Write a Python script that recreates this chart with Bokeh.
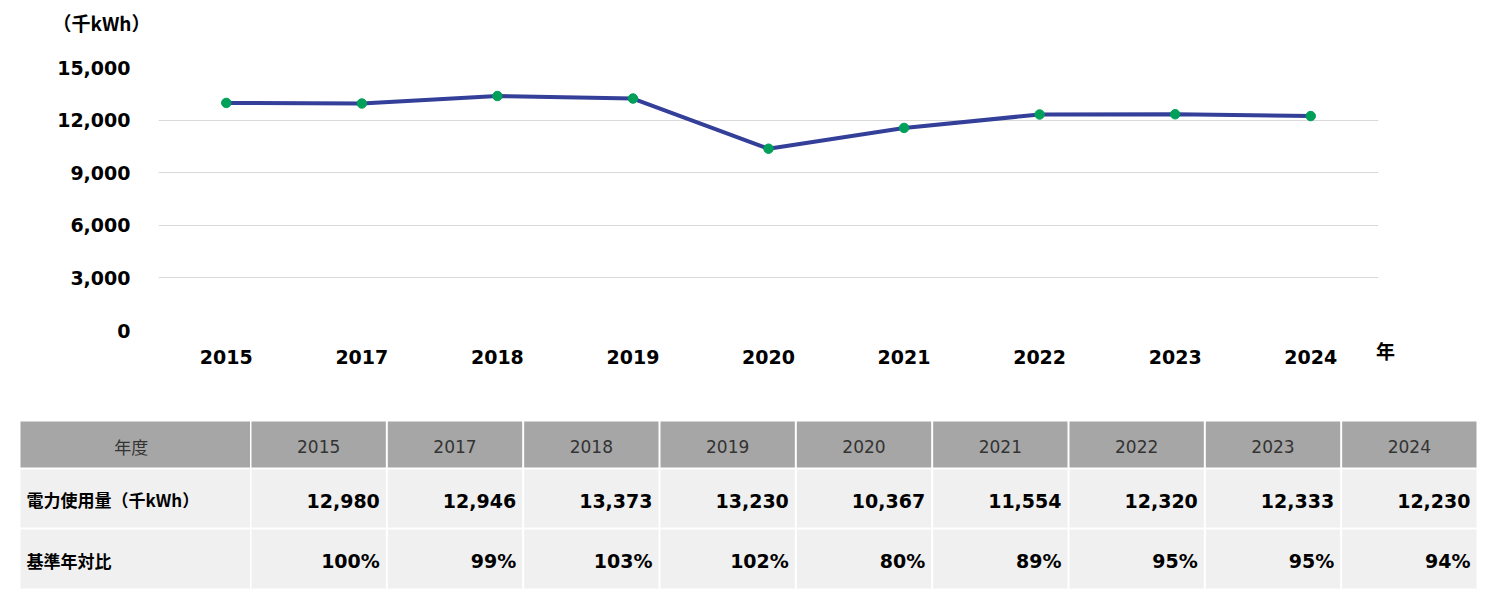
from bokeh.plotting import figure
from bokeh.models import (ColumnDataSource, FactorRange, Range1d, FixedTicker,
                          NumeralTickFormatter, Label)
from bokeh.core.properties import value
from bokeh.embed import file_html
from bokeh.resources import INLINE

# ---------------- data ----------------
years = ["2015", "2017", "2018", "2019", "2020", "2021", "2022", "2023", "2024"]
usage = [12980, 12946, 13373, 13230, 10367, 11554, 12320, 12333, 12230]
ratio = ["100%", "99%", "103%", "102%", "80%", "89%", "95%", "95%", "94%"]
y_ticks = [0, 3000, 6000, 9000, 12000, 15000]
unit_label = "（千kWh）"
x_unit_label = "年"
row_labels = ["年度", "電力使用量（千kWh）", "基準年対比"]

LATIN = "'DejaVu Sans', 'Noto Sans CJK JP'"
CJK = "'Noto Sans CJK JP', 'DejaVu Sans'"

# ---------------- chart ----------------
W = 1490
CH = 408
p = figure(width=W, height=CH, x_range=FactorRange(factors=years, range_padding=0),
           y_range=Range1d(0, 15000), output_backend="svg", toolbar_location=None,
           min_border_left=158, min_border_right=112, min_border_top=67,
           min_border_bottom=78)
p.outline_line_color = None
p.background_fill_color = "white"
p.border_fill_color = "white"

src = ColumnDataSource(dict(x=years, y=usage))
p.line("x", "y", source=src, line_color="#333f99", line_width=4)
p.scatter("x", "y", source=src, size=9.5, fill_color="#00a05a", line_color="#00a05a")

p.xgrid.grid_line_color = None
p.ygrid.grid_line_color = "#d9d9d9"
p.ygrid.grid_line_width = 1

p.yaxis.ticker = FixedTicker(ticks=y_ticks)
p.yaxis.formatter = NumeralTickFormatter(format="0,0")
for ax in (p.xaxis[0], p.yaxis[0]):
    ax.axis_line_color = None
    ax.major_tick_line_color = None
    ax.minor_tick_line_color = None
    ax.major_tick_out = 0
    ax.major_tick_in = 0
    ax.major_label_text_font = LATIN
    ax.major_label_text_font_size = "19px"
    ax.major_label_text_font_style = "bold"
    ax.major_label_text_color = "black"
p.yaxis.major_label_standoff = 28
p.xaxis.major_label_standoff = 19

# unit labels placed in side panels (not clipped to the frame)
p.add_layout(Label(x=-57, y=45, x_units="screen", y_units="screen", text=unit_label,
                   text_font=CJK, text_font_size="19px", text_font_style="bold",
                   text_baseline="middle", text_align="center", text_color="black"), "above")
p.add_layout(Label(x=1227, y=-310, x_units="screen", y_units="screen", text=x_unit_label,
                   text_font=CJK, text_font_size="19px", text_font_style="bold",
                   text_baseline="middle", text_align="center", text_color="black"), "above")

# ---------------- table ----------------
TH = 603 - CH
Y0 = CH
t = figure(width=W, height=TH, x_range=Range1d(0, W), y_range=Range1d(TH, 0),
           output_backend="svg", toolbar_location=None,
           min_border_left=0, min_border_right=0, min_border_top=0, min_border_bottom=0)
t.axis.visible = False
t.grid.visible = False
t.outline_line_color = None
t.background_fill_color = "white"
t.border_fill_color = "white"

first_l, first_r = 20, 249.5
col0 = 250
pitch = (1477 - 250) / len(years)
rows = [(421 - Y0, 467 - Y0), (469 - Y0, 527 - Y0), (529 - Y0, 588 - Y0)]
fills = ["#a6a6a6", "#f0f0f0", "#f0f0f0"]

L, R, T, B, C = [], [], [], [], []
for ri, (top, bot) in enumerate(rows):
    L.append(first_l); R.append(first_r); T.append(top); B.append(bot); C.append(fills[ri])
    for i in range(len(years)):
        L.append(col0 + i * pitch + 1)
        R.append(col0 + (i + 1) * pitch - 1)
        T.append(top); B.append(bot); C.append(fills[ri])
t.quad(left=L, right=R, top=T, bottom=B, fill_color=C, line_color=None)

# header texts
hx = [(first_l + first_r) / 2 - 4] + [col0 + (i + 0.5) * pitch for i in range(len(years))]
hy = [(rows[0][0] + rows[0][1]) / 2 + 2] * (len(years) + 1)
t.text(x=hx[1:], y=hy[1:], text=years, text_font=value(LATIN), text_font_size=value("17px"),
       text_color="#333333", text_align="center", text_baseline="middle")
t.text(x=hx[:1], y=hy[:1], text=row_labels[:1], text_font=value(CJK),
       text_font_size=value("17px"), text_color="#333333", text_align="center",
       text_baseline="middle")

# row labels
t.text(x=[26, 26], y=[(rows[1][0] + rows[1][1]) / 2 + 1, (rows[2][0] + rows[2][1]) / 2 + 1],
       text=row_labels[1:], text_font=value(CJK), text_font_size=value("17px"),
       text_font_style="bold", text_color="black", text_align="left", text_baseline="middle")

# values
vx = [col0 + (i + 1) * pitch - 7 for i in range(len(years))]
t.text(x=vx, y=[(rows[1][0] + rows[1][1]) / 2 + 2] * len(years),
       text=["{:,}".format(u) for u in usage], text_font=value(LATIN),
       text_font_size=value("19px"), text_font_style="bold", text_color="black",
       text_align="right", text_baseline="middle")
t.text(x=vx, y=[(rows[2][0] + rows[2][1]) / 2 + 2] * len(years),
       text=ratio, text_font=value(LATIN),
       text_font_size=value("19px"), text_font_style="bold", text_color="black",
       text_align="right", text_baseline="middle")

open("out.html", "w").write(file_html([p, t], INLINE))
